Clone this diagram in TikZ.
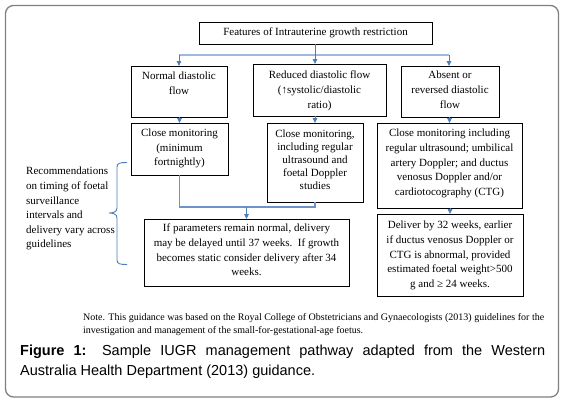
\documentclass[tikz,border=0pt]{standalone}
\usepackage{fontspec}
\setmainfont{Liberation Serif}
\newfontfamily\capfont{Liberation Sans}
\usetikzlibrary{arrows.meta}
\definecolor{arrblue}{HTML}{4A7EBB}
\definecolor{lineblue}{HTML}{9DB9DE}
\definecolor{midblue}{HTML}{6C94CA}
\definecolor{framegray}{HTML}{808080}
\begin{document}
\begin{tikzpicture}[x=1pt,y=-1pt,
  box/.style={draw=black, line width=0.9pt, inner sep=0pt, outer sep=0pt, anchor=north west},
  lbl/.style={align=center, font=\fontsize{11}{14.6}\selectfont, inner sep=0pt, anchor=north},
  arr/.style={draw=arrblue, line width=0.9pt, -{Triangle[width=4.5pt,length=5pt]}},
  pale/.style={draw=lineblue, line width=2pt},
  mid/.style={draw=midblue, line width=1.2pt},
  bracestyle/.style={draw=arrblue, line width=0.9pt}]
\useasboundingbox (0,0) rectangle (564,400);
\fill[white] (0,0) rectangle (564,400);
\draw[framegray, line width=1.3pt, rounded corners=8pt] (5.5,5.5) rectangle (558.5,397);

% boxes
\node[box, minimum width=233pt, minimum height=22pt] (title) at (199,22) {};
\node[font=\fontsize{11}{14.6}\selectfont, inner sep=0pt] at (title.center) {Features of Intrauterine growth restriction};

\node[box, minimum width=96pt, minimum height=51pt] (normal) at (131,66) {};
\node[lbl] at (179,72) {Normal diastolic\\flow};

\node[box, minimum width=133pt, minimum height=52pt] (reduced) at (253,64) {};
\node[lbl] at (319.5,71) {Reduced diastolic flow\\(↑systolic/diastolic\\ratio)};

\node[box, minimum width=98pt, minimum height=51pt] (absent) at (401,66) {};
\node[lbl] at (450,71) {Absent or\\reversed diastolic\\flow};

\node[box, minimum width=97pt, minimum height=52pt] (cm1) at (131,123) {};
\node[lbl, font=\fontsize{11}{14.2}\selectfont] at (179.5,129) {Close monitoring\\(minimum\\fortnightly)};

\node[box, minimum width=96pt, minimum height=79pt] (cm2) at (267,123) {};
\node[lbl, font=\fontsize{11}{12.8}\selectfont] at (315,130) {Close monitoring,\\including regular\\ultrasound and\\foetal Doppler\\studies};

\node[box, minimum width=145pt, minimum height=85pt] (cm3) at (377,123) {};
\node[lbl] at (449.5,129) {Close monitoring including\\regular ultrasound; umbilical\\artery Doppler; and ductus\\venosus Doppler and/or\\cardiotocography (CTG)};

\node[box, minimum width=205pt, minimum height=67pt] (bot) at (144,219) {};
\node[lbl] at (246.5,224) {If parameters remain normal, delivery\\may be delayed until 37 weeks.\ \ If growth\\becomes static consider delivery after 34\\weeks.};

\node[box, minimum width=146pt, minimum height=82pt] (deliver) at (377,214) {};
\node[lbl] at (450,221) {Deliver by 32 weeks, earlier\\if ductus venosus Doppler or\\CTG is abnormal, provided\\estimated foetal weight>500\\g and ≥ 24 weeks.};

\node[lbl, align=left, anchor=north west] (rec) at (26,167) {Recommendations\\on timing of foetal\\surveillance\\intervals and\\delivery vary across\\guidelines};

% connectors
\coordinate (hl) at (179,55);
\coordinate (hr) at (449,55);
\draw[pale] (hl) -- (hr);
\draw[arr] (title.south -| 315,0) -- (315,64);
\draw[arr] (hl) -- (normal.north -| hl);
\draw[arr] (hr) -- (absent.north -| hr);
\draw[arr] (normal.south -| cm1.north) -- (cm1.north);
\draw[arr] (reduced.south -| cm2.north) -- (cm2.north);
\draw[arr] (absent.south -| cm3.north) -- (cm3.north);
\draw[arr] (cm3.south -| deliver.north) -- (deliver.north);
\coordinate (jl) at (cm1.south |- 0,207);
\coordinate (jr) at (cm2.south |- 0,207);
\draw[mid] (cm1.south) -- (jl) -- (jr) -- (cm2.south);
\draw[arr] (bot.north |- jl) -- (bot.north);

% brace
\draw[bracestyle] (127,162.5) .. controls (120,162.5) and (117,163) .. (117,167) -- (117,208)
  .. controls (117,212) and (113,213) .. (109,213) .. controls (113,213) and (117,214) .. (117,218)
  -- (117,260) .. controls (117,264) and (120,264.5) .. (127,264.5);

% note and caption
\node[anchor=north west, align=left, inner sep=0pt, font=\fontsize{10}{13}\selectfont] (note) at (83,313)
  {Note. This guidance was based on the Royal College of Obstetricians and Gynaecologists (2013) guidelines for the\\investigation and management of the small-for-gestational-age foetus.};
\node[anchor=north west, inner sep=0pt, font=\capfont\fontsize{14.5}{20}\selectfont] (cap) at (20,345)
  {\parbox{525pt}{\parfillskip=0pt\textbf{Figure 1:} Sample IUGR management pathway adapted from the Western\par
   \parfillskip=0pt plus 1fil Australia Health Department (2013) guidance.}};
\end{tikzpicture}
\end{document}
